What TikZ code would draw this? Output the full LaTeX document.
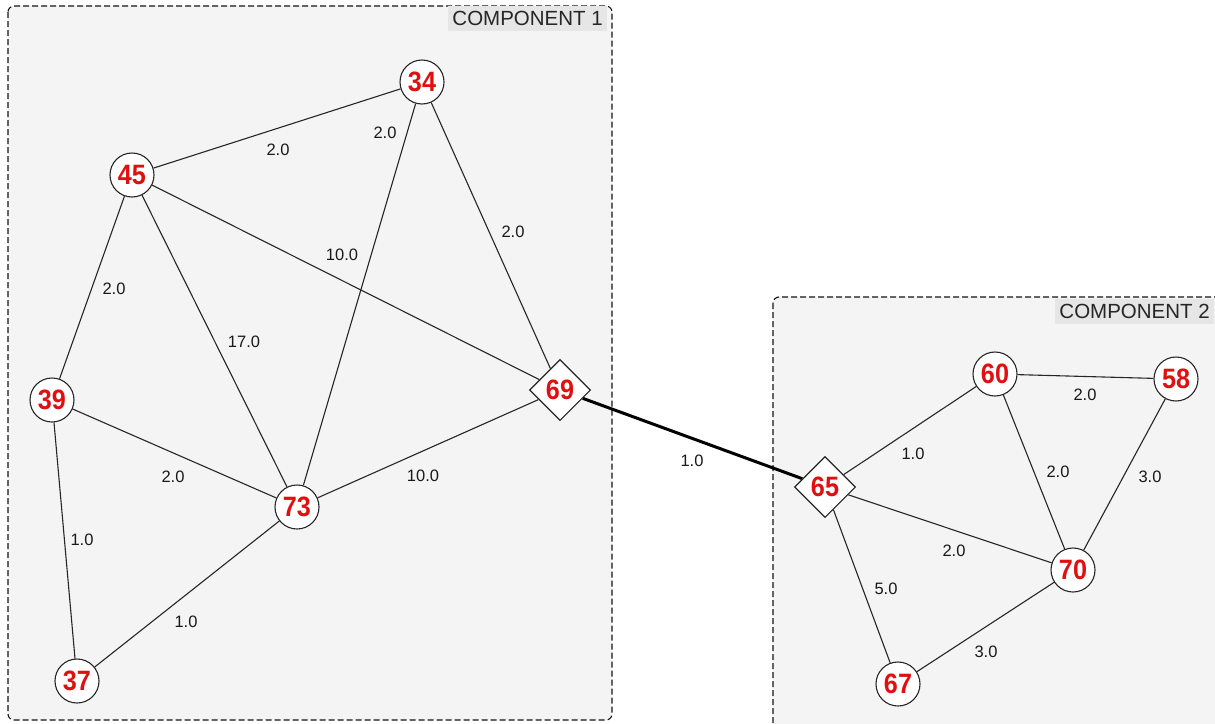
\documentclass[tikz,border=0pt]{standalone}
\usepackage{fontspec}
\setmainfont{Liberation Sans}
\usetikzlibrary{shapes.geometric}
\pgfdeclarelayer{boxes}
\pgfdeclarelayer{edges}
\pgfsetlayers{boxes,edges,main}
\definecolor{boxfill}{HTML}{F4F4F4}
\definecolor{tagfill}{HTML}{E6E6E6}
\definecolor{numred}{HTML}{E01010}
\definecolor{edgecol}{HTML}{262626}
\tikzset{
  vert/.style={circle, draw=edgecol, line width=1.1pt, fill=white, minimum size=44pt, inner sep=0pt,
    text=numred, font=\fontsize{28}{28}\selectfont\bfseries},
  hub/.style={diamond, draw=edgecol, line width=1.1pt, fill=white, minimum size=61pt, inner sep=0pt,
    text=numred, font=\fontsize{28}{28}\selectfont\bfseries},
  link/.style={draw=edgecol, line width=1.1pt},
  bridge/.style={draw=black, line width=3pt},
  wt/.style={font=\fontsize{16.5}{16.5}\selectfont, text=black!90, inner sep=1pt},
  comp/.style={draw=black!92, dashed, dash pattern=on 6pt off 3pt, line width=1.1pt, fill=boxfill, rounded corners=6pt},
  tag/.style={fill=tagfill, font=\fontsize{20.5}{20.5}\selectfont, text=black!85, inner xsep=4pt, inner ysep=5pt, anchor=north east}
}
\newcommand{\num}[1]{\scalebox{0.9}[1]{#1}}
\begin{document}
\begin{tikzpicture}[x=1pt,y=-1pt]
\useasboundingbox (0,0) rectangle (1215,723);
\clip (0,0) rectangle (1215,723);
% nodes
\node[vert] (n34) at (422,82) {\num{34}};
\node[vert] (n45) at (132,175) {\num{45}};
\node[vert] (n39) at (52,400) {\num{39}};
\node[vert] (n73) at (297,507) {\num{73}};
\node[vert] (n37) at (77,681) {\num{37}};
\node[hub]  (n69) at (560,390) {\num{69}};
\node[vert] (n60) at (995,374) {\num{60}};
\node[vert] (n58) at (1176,379) {\num{58}};
\node[hub]  (n65) at (825,487) {\num{65}};
\node[vert] (n70) at (1073,570) {\num{70}};
\node[vert] (n67) at (898,684) {\num{67}};
% component boxes
\begin{pgfonlayer}{boxes}
\path[comp] (8,6) rectangle (612,720);
\node[tag] (t1) at (607,6) {COMPONENT 1};
\path[comp] (773,297) rectangle (1235,745);
\node[tag] (t2) at (1214,299) {COMPONENT 2};
\end{pgfonlayer}
% edges
\begin{pgfonlayer}{edges}
\draw[link] (n45) -- (n34);
\draw[link] (n34) -- (n73);
\draw[link] (n34) -- (n69);
\draw[link] (n45) -- (n69);
\draw[link] (n45) -- (n39);
\draw[link] (n45) -- (n73);
\draw[link] (n39) -- (n73);
\draw[link] (n73) -- (n69);
\draw[link] (n39) -- (n37);
\draw[link] (n73) -- (n37);
\draw[bridge] (n69) -- (n65);
\draw[link] (n65) -- (n60);
\draw[link] (n60) -- (n58);
\draw[link] (n60) -- (n70);
\draw[link] (n58) -- (n70);
\draw[link] (n65) -- (n70);
\draw[link] (n65) -- (n67);
\draw[link] (n67) -- (n70);
\end{pgfonlayer}
% weights
\node[wt] (w1) at (278,150) {2.0};
\node[wt] (w2) at (385,133) {2.0};
\node[wt] (w3) at (513,232) {2.0};
\node[wt] (w4) at (342,255) {10.0};
\node[wt] (w5) at (114,289) {2.0};
\node[wt] (w6) at (244,342) {17.0};
\node[wt] (w7) at (173,477) {2.0};
\node[wt] (w8) at (423,476) {10.0};
\node[wt] (w9) at (82,540) {1.0};
\node[wt] (w10) at (186,622) {1.0};
\node[wt] (w11) at (692,461) {1.0};
\node[wt] (w12) at (913,454) {1.0};
\node[wt] (w13) at (1085,395) {2.0};
\node[wt] (w14) at (1058,472) {2.0};
\node[wt] (w15) at (1150,477) {3.0};
\node[wt] (w16) at (954,551) {2.0};
\node[wt] (w17) at (886,589) {5.0};
\node[wt] (w18) at (986,652) {3.0};
\end{tikzpicture}
\end{document}
